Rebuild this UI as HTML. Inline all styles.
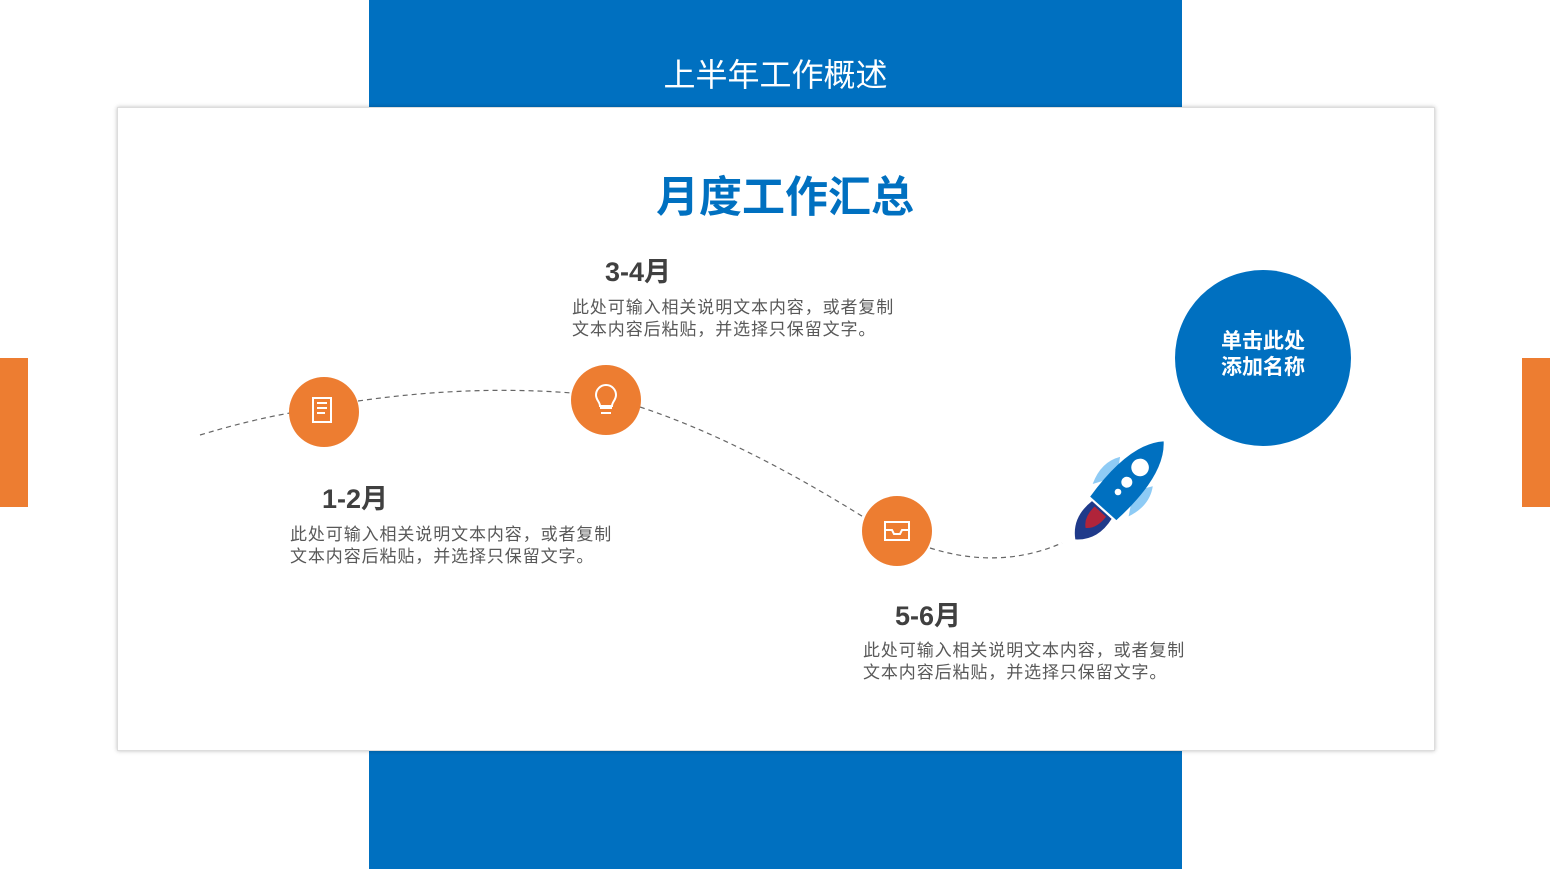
<!DOCTYPE html>
<html><head><meta charset="utf-8"><style>
body{margin:0;width:1550px;height:869px;position:relative;background:#fff;overflow:hidden;font-family:"Liberation Sans","Noto Sans CJK SC",sans-serif}
.abs{position:absolute}
.t{color:#595959;font-size:17px;line-height:22px;letter-spacing:0.9px}
.h{color:#404040;font-size:27px;font-weight:bold}
</style></head><body>
<div class="abs" style="left:369px;top:0;width:813px;height:107px;background:#0070c0"></div>
<div class="abs" style="left:369px;top:750px;width:813px;height:119px;background:#0070c0"></div>
<div class="abs" style="left:0;top:358px;width:28px;height:149px;background:#ed7d31"></div>
<div class="abs" style="left:1522px;top:358px;width:28px;height:149px;background:#ed7d31"></div>
<div class="abs" style="left:369px;top:50px;width:813px;text-align:center;color:#fff;font-size:32px">上半年工作概述</div>
<div class="abs" style="left:117px;top:107px;width:1316px;height:642px;background:#fff;border:1px solid #ddd;box-shadow:0 0 4px rgba(0,0,0,0.25)"></div>
<div class="abs" style="left:117px;top:163px;width:1336px;text-align:center;color:#0070c0;font-size:43px;font-weight:bold">月度工作汇总</div>
<svg class="abs" style="left:0;top:0" width="1550" height="869">
<path d="M200,435 Q250,420 290,413 M358,401 Q470,385 572,393 M640,407 Q740,440 865,518 M930,548 Q1000,570 1062,543" fill="none" stroke="#666" stroke-width="1.2" stroke-dasharray="5,4"/>
<circle cx="324" cy="412" r="35" fill="#ed7d31"/>
<circle cx="606" cy="400" r="35" fill="#ed7d31"/>
<circle cx="897" cy="531" r="35" fill="#ed7d31"/>
<circle cx="1263" cy="358" r="88" fill="#0070c0"/>
<g fill="none" stroke="#fff" stroke-width="2">
<path d="M313,398h18v24h-18z"/><path d="M317,403h10M317,408h10M317,413h8"/>
<path d="M600,408h12M601,413h10M596,395a10,10 0 1 1 20,0c0,5-4,7-4,11h-12c0-4-4-6-4-11z"/>
<path d="M885,522h24v18h-24zM885,530h7l2,4h6l2-4h7"/>
</g>
<g transform="translate(1118,492) rotate(42) scale(1.1)">
<path d="M-22,10 Q-30,-10 -20,-25 L-10,-10z" fill="#8ecbf5"/>
<path d="M22,10 Q30,-10 20,-25 L10,-10z" fill="#8ecbf5"/>
<path d="M0,-62 Q22,-40 16,20 L-16,20 Q-22,-40 0,-62z" fill="#0070c0"/>
<circle cx="0" cy="-30" r="8" fill="#fff"/><circle cx="0" cy="-12" r="5" fill="#fff"/><circle cx="0" cy="0" r="3" fill="#fff"/>
<path d="M-12,22 Q-16,45 0,58 Q16,45 12,22z" fill="#1f3a8a"/>
<path d="M-7,24 Q-8,38 0,44 Q8,38 7,24z" fill="#b0243a"/>
</g>
</svg>
<div class="abs" style="left:1176px;top:329px;width:174px;text-align:center;color:#fff;font-size:21px;font-weight:bold;line-height:26px">单击此处<br>添加名称</div>
<div class="abs h" style="left:322px;top:477px">1-2月</div>
<div class="abs t" style="left:290px;top:524px">此处可输入相关说明文本内容，或者复制<br>文本内容后粘贴，并选择只保留文字。</div>
<div class="abs h" style="left:605px;top:250px">3-4月</div>
<div class="abs t" style="left:572px;top:297px">此处可输入相关说明文本内容，或者复制<br>文本内容后粘贴，并选择只保留文字。</div>
<div class="abs h" style="left:895px;top:594px">5-6月</div>
<div class="abs t" style="left:863px;top:640px">此处可输入相关说明文本内容，或者复制<br>文本内容后粘贴，并选择只保留文字。</div>
</body></html>
